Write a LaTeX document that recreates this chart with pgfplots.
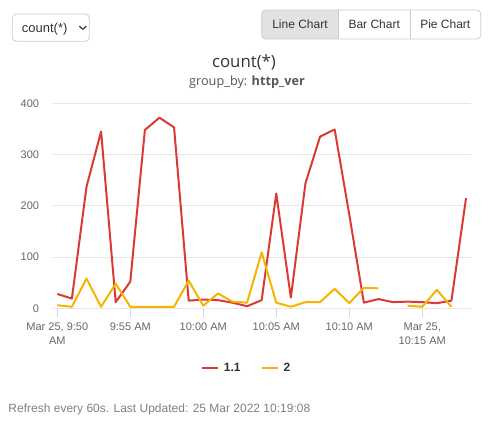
\documentclass[border=0pt]{standalone}
\usepackage{pgfplots}
\pgfplotsset{compat=1.18}
\usepackage{fontspec}
\setmainfont{Liberation Sans}
\newfontfamily\opensans{Open Sans}
\definecolor{redline}{HTML}{DB3A34}
\definecolor{yelline}{HTML}{F4B400}
\definecolor{axisblue}{HTML}{CCD6EB}
\definecolor{gridgray}{HTML}{E6E6E6}
\definecolor{labgray}{HTML}{666666}
\definecolor{darktext}{HTML}{333333}
\definecolor{footgray}{HTML}{808080}
\definecolor{btnborder}{HTML}{CCCCCC}
\definecolor{btnfill}{HTML}{E2E2E2}
\begin{document}
\begin{tikzpicture}[x=1pt,y=1pt]
\path[use as bounding box] (0,0) rectangle (492,-434);
% dropdown
\draw[btnborder, rounded corners=4pt, line width=0.8pt] (12.3,-14) rectangle (89.3,-41.3);
\node[anchor=base west, inner sep=0pt, text=darktext, font=\fontsize{13}{15}\selectfont] at (21.7,-32) {count(*)};
\draw[darktext, line width=1.2pt, line cap=round, line join=round] (79.5,-26.3) -- (82.8,-29.3) -- (86.1,-26.3);
% buttons
\fill[btnfill, rounded corners=4pt] (261.7,-10) rectangle (338.3,-39);
\fill[btnfill] (300,-10) rectangle (338.3,-39);
\draw[btnborder, rounded corners=4pt, line width=0.8pt] (261.7,-10) rectangle (480.7,-39);
\draw[btnborder, line width=0.8pt] (338.3,-10) -- (338.3,-39);
\draw[btnborder, line width=0.8pt] (410,-10) -- (410,-39);
\node[anchor=base, inner sep=0pt, text=darktext, font=\fontsize{12}{14}\selectfont] at (300,-28.5) {Line Chart};
\node[anchor=base, inner sep=0pt, text=darktext, font=\fontsize{12}{14}\selectfont] at (374.2,-28.5) {Bar Chart};
\node[anchor=base, inner sep=0pt, text=darktext, font=\fontsize{12}{14}\selectfont] at (445.3,-28.5) {Pie Chart};
% titles
\node[anchor=base, inner sep=0pt, text=darktext, font=\opensans\fontsize{16.8}{18}\selectfont] at (244,-67) {count(*)};
\node[anchor=base, inner sep=0pt, text=labgray!70!darktext, font=\opensans\fontsize{12.7}{14}\selectfont] at (247,-85) {group\_by: \textbf{http\_ver}};
% footer
\node[anchor=base west, inner sep=0pt, text=footgray, font=\fontsize{12}{14}\selectfont] at (8.3,-412) {Refresh every 60s. Last Updated: 25 Mar 2022 10:19:08};
\begin{axis}[
  at={(53.3pt,-308.3pt)}, anchor=south west,
  scale only axis, width=417.4pt, height=205pt,
  xmin=-0.274, xmax=28.32, ymin=0, ymax=400,
  axis line style={draw=none},
  xtick={0,5,10,15,20,25},
  xticklabels={{Mar 25, 9:50\\AM},{9:55 AM},{10:00 AM},{10:05 AM},{10:10 AM},{Mar 25,\\10:15 AM}},
  xticklabel style={align=center, text=labgray, font=\fontsize{11}{14}\selectfont, inner sep=0pt, anchor=north, yshift=-5pt},
  xtick pos=lower, tick align=outside, major tick length=9pt,
  x tick style={axisblue, line width=1pt},
  ytick={0,100,200,300,400},
  y tick style={draw=none},
  yticklabel style={text=labgray, font=\fontsize{11}{13}\selectfont, inner sep=0pt, anchor=east, xshift=-5pt},
  ymajorgrids, y grid style={gridgray, line width=1pt},
  extra y ticks={0}, extra y tick labels={},
  extra y tick style={grid style={axisblue, line width=1pt}},
  /pgf/number format/assume math mode=true,
  unbounded coords=jump,
  legend style={at={(0.463,-0.291)}, anchor=center, draw=none, fill=none,
    font=\bfseries\fontsize{12}{14}\selectfont, text=darktext,
    legend columns=2,
    /tikz/every odd column/.append style={column sep=3pt},
    /tikz/every even column/.append style={column sep=18pt}},
  legend image code/.code={\draw[#1] (0pt,0pt) -- (16pt,0pt);},
  clip=false,
]
\addplot[redline, line width=2pt, line join=round] coordinates {
(0,28) (1,19) (2,237) (3,345) (4,12) (5,52) (6,348) (7,372) (8,353) (9,15)
(10,17) (11,16) (12,11) (13,4) (14,16) (15,224) (16,21) (17,244) (18,335) (19,349)
(20,183) (21,11) (22,18) (23,12) (24,13) (25,12) (26,10) (27,15) (28,215)
};
\addlegendentry{1.1}
\addplot[yelline, line width=2pt, line join=round] coordinates {
(0,6) (1,3) (2,58) (3,3) (4,48) (5,3) (6,3) (7,3) (8,3) (9,54)
(10,5) (11,29) (12,13) (13,11) (14,109) (15,11) (16,3) (17,12) (18,12) (19,38)
(20,10) (21,40) (22,39) (23,nan) (24,5) (25,3) (26,36) (27,3)
};
\addlegendentry{2}
\end{axis}
\end{tikzpicture}
\end{document}
